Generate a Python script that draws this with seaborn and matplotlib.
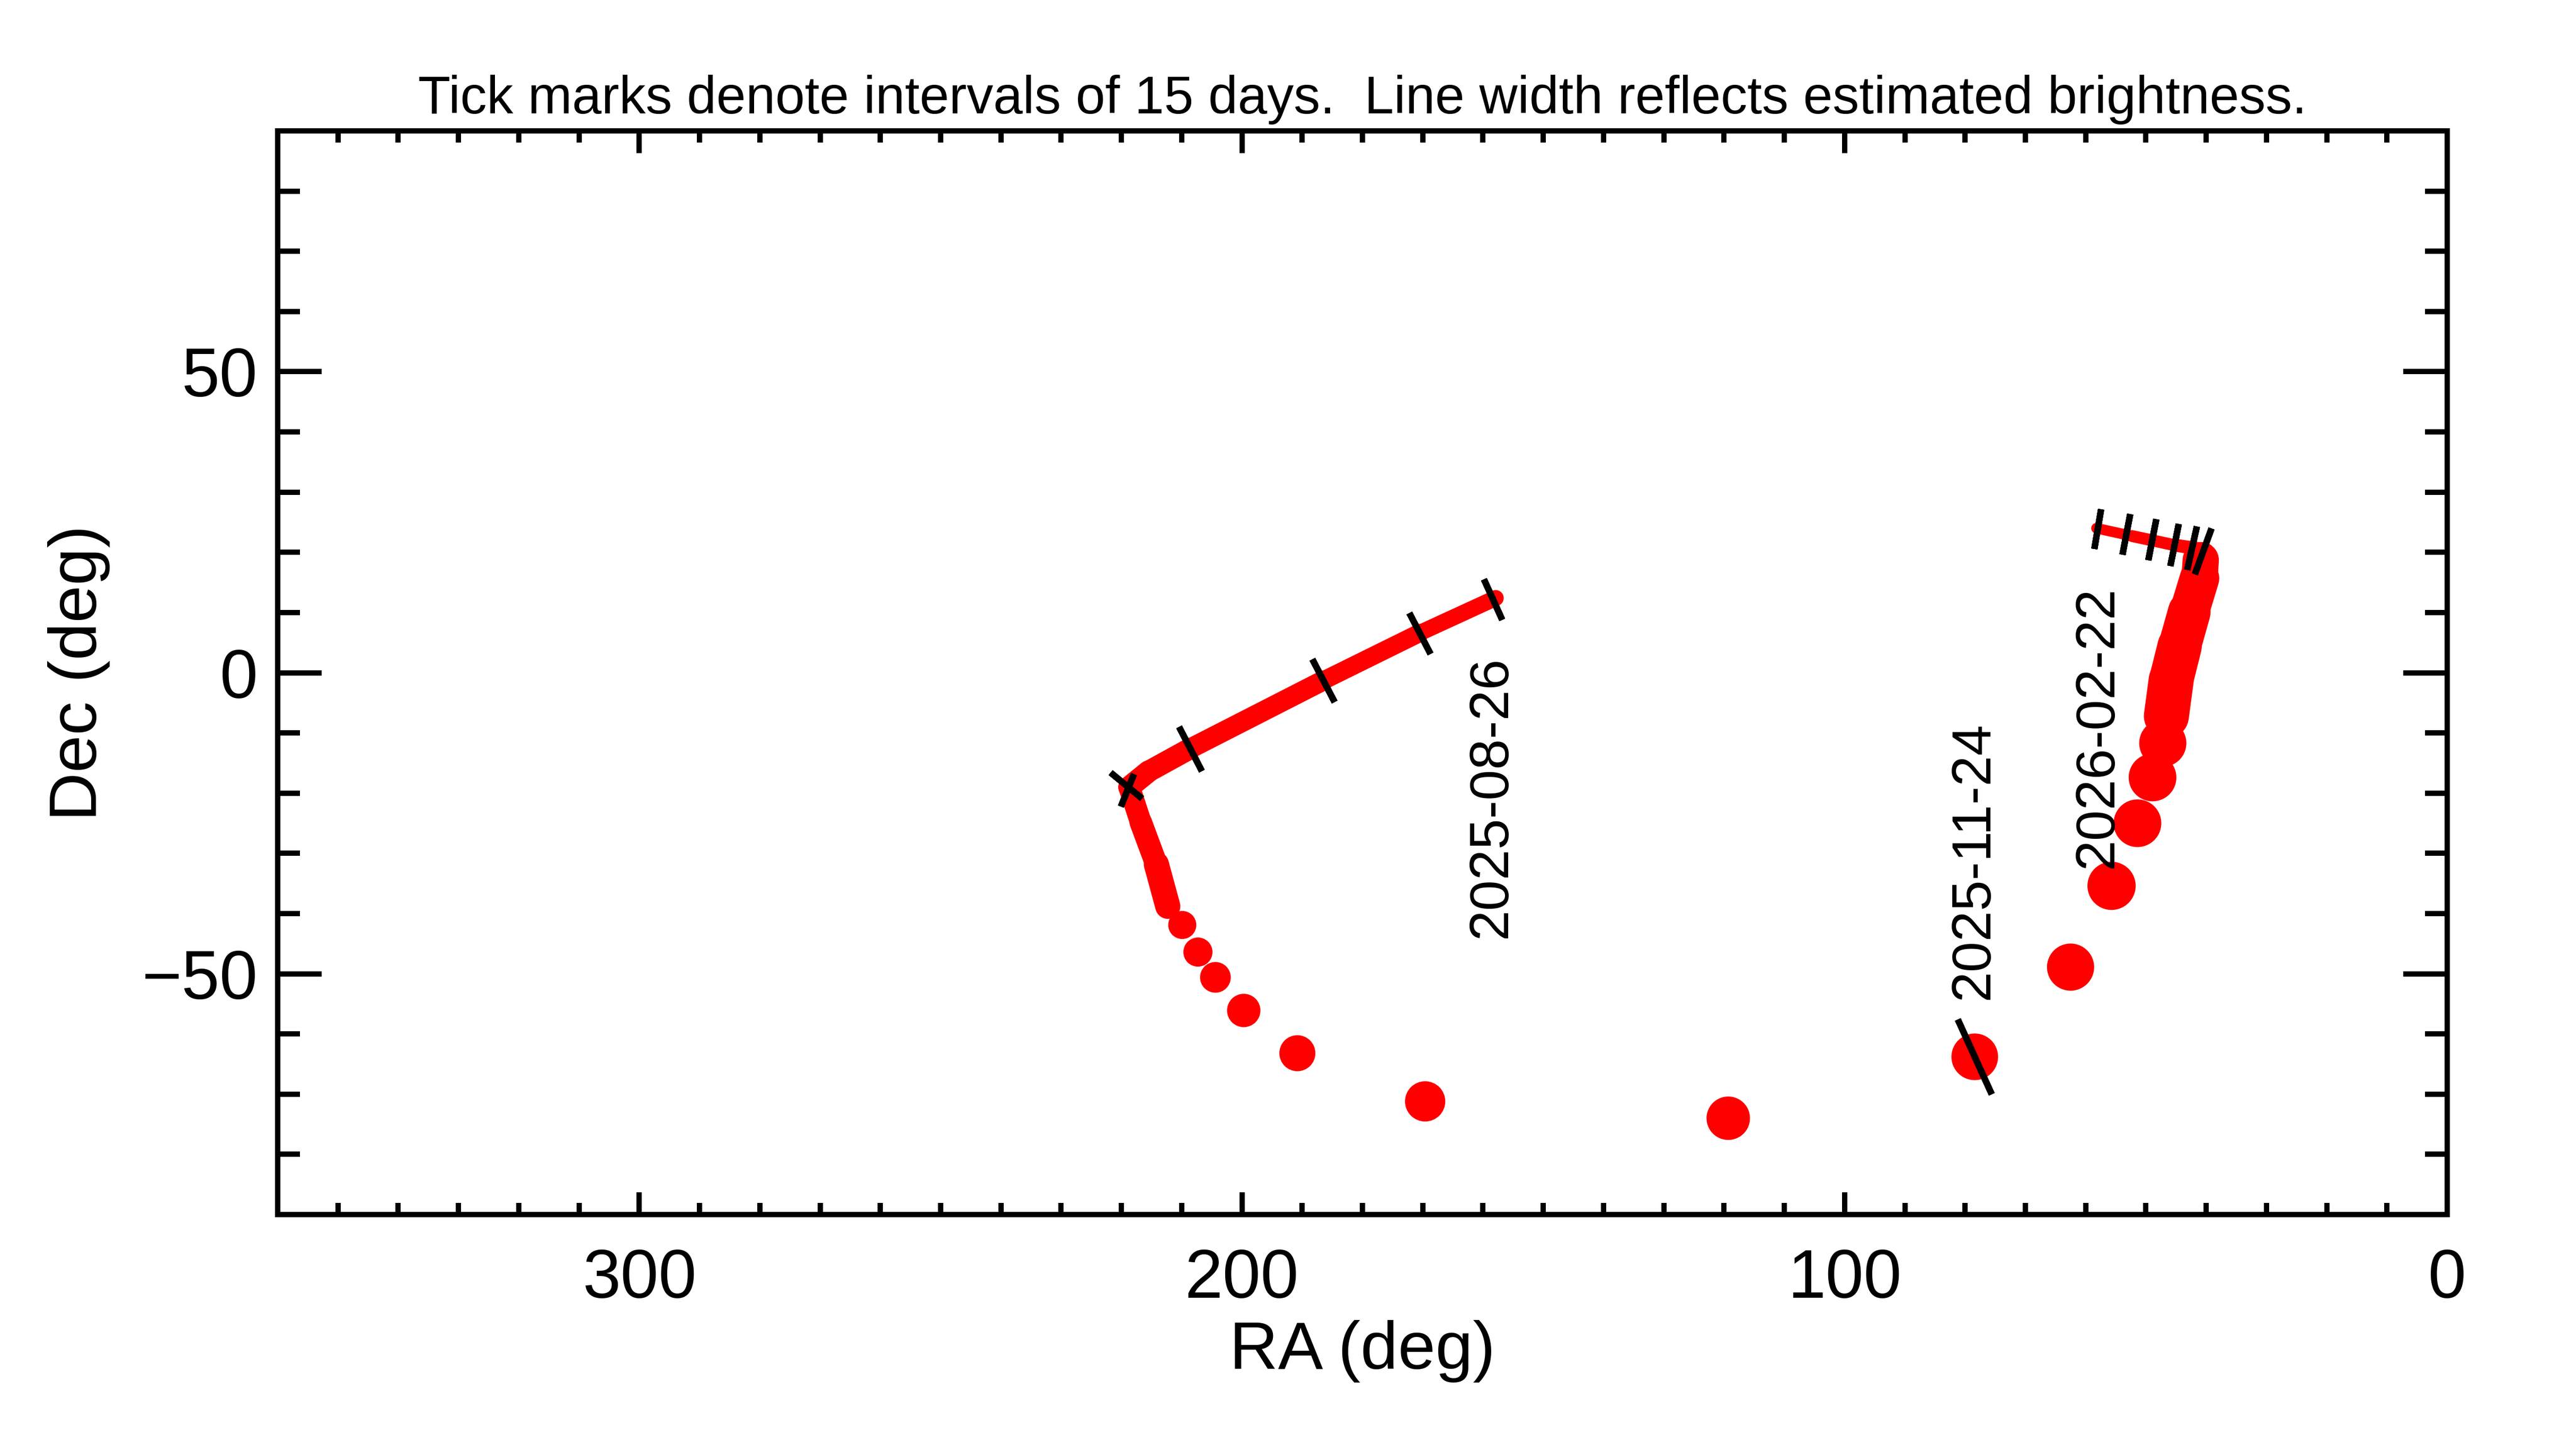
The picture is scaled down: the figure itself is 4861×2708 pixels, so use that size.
import numpy as np
import pandas as pd
import matplotlib
matplotlib.use("Agg")
import matplotlib.pyplot as plt
from matplotlib.ticker import MultipleLocator
import seaborn as sns

DPI = 300
PT = 72.0 / DPI   # points per output pixel

# continuous parts of the track (RA, Dec in deg, trail width in px)
trail_piece = [1, 1, 1, 1, 1, 1, 1, 1, 1,
               2, 2, 2, 2, 2, 2,
               3, 3, 3, 3]
trail_ra = [157.9, 170.5, 186.5, 208.6, 215.5, 218.7, 216.8, 214.2, 212.3,
            46.6, 45.8, 44.4, 42.8, 41.1, 40.9,
            39.9, 45.3, 52.3, 58.2]
trail_dec = [12.4, 6.6, -1.3, -12.6, -16.4, -19.0, -24.8, -31.8, -38.8,
             -7.2, -1.2, 4.4, 10.1, 15.7, 18.7,
             20.4, 21.2, 22.7, 24.0]
trail_px = [28, 33, 36, 40, 41, 42, 40, 45, 50,
            86, 84, 83, 78, 71, 66,
            25, 24, 21, 19]

# separate daily positions where the comet moves fast
dot_ra = [209.9, 207.3, 204.4, 199.7, 190.8, 169.6, 119.3,
          78.4, 62.5, 55.7, 51.4, 48.9, 47.2]
dot_dec = [-41.9, -46.4, -50.6, -56.1, -63.2, -71.2, -74.0,
           -63.8, -48.9, -35.4, -25.0, -17.4, -11.7]
dot_px = [53, 55, 58, 63, 68, 76, 82,
          88, 89, 91, 90, 90, 89]

# 15-day tick marks (centre, screen angle in deg, length in px)
tick_ra = [158.4, 170.5, 186.5, 208.6, 219.2, 219.0, 78.4,
           40.5, 42.4, 45.3, 49.0, 53.3, 58.0]
tick_dec = [12.2, 6.6, -1.3, -12.6, -18.7, -19.5, -63.8,
            20.2, 20.7, 21.3, 22.1, 23.0, 23.9]
tick_angle = [-65.7, -62.6, -62.5, -62.7, -39.5, 68.0, -65.6,
              70.0, 77.5, 78.7, 79.0, 79.2, 80.3]
tick_px = [84, 87, 91, 94, 77, 66, 155,
           92, 84, 81, 79, 78, 76]

# date labels
label_text = ["2025-08-26", "2025-11-24", "2026-02-22"]
label_ra = [158.5, 78.5, 57.9]
label_dec = [-20.6, -31.2, -9.0]

title = "Tick marks denote intervals of 15 days.  Line width reflects estimated brightness."

sns.set_style("ticks")
plt.rcParams['font.family'] = ['Liberation Sans', 'DejaVu Sans']
plt.rcParams['axes.linewidth'] = 10 * PT
for key in ['text.color', 'axes.labelcolor', 'xtick.color', 'ytick.color', 'axes.edgecolor']:
    plt.rcParams[key] = 'black'

fig = plt.figure(figsize=(4861 / DPI, 2708 / DPI), dpi=DPI)
ax = fig.add_axes([524 / 4861, 1 - 2292 / 2708, 4094 / 4861, 2045 / 2708])

# trail: one short line per pair of neighbouring vertices, width = mean of the two
rows = []
seg = 0
for i in range(len(trail_ra) - 1):
    if trail_piece[i] != trail_piece[i + 1]:
        continue
    w = 0.5 * (trail_px[i] + trail_px[i + 1]) * PT
    rows.append((seg, trail_ra[i], trail_dec[i], w))
    rows.append((seg, trail_ra[i + 1], trail_dec[i + 1], w))
    seg += 1
seg_df = pd.DataFrame(rows, columns=['seg', 'ra', 'dec', 'lw'])
lw_min, lw_max = seg_df['lw'].min(), seg_df['lw'].max()

sns.lineplot(data=seg_df, x='ra', y='dec', units='seg', estimator=None, sort=False,
             size='lw', sizes=(lw_min, lw_max), size_norm=(lw_min, lw_max),
             color='red', solid_capstyle='round', legend=False, ax=ax, zorder=2)

dots = pd.DataFrame({'ra': dot_ra, 'dec': dot_dec,
                     's': (np.array(dot_px) * PT) ** 2})
sns.scatterplot(data=dots, x='ra', y='dec', s=dots['s'].values, color='red',
                linewidth=0, edgecolor='none', legend=False, ax=ax, zorder=2)

for ra, dec, ang, ln in zip(tick_ra, tick_dec, tick_angle, tick_px):
    ax.plot([ra], [dec], linestyle='none', marker=(2, 2, ang - 90),
            markersize=ln * PT, markeredgewidth=12 * PT, color='black', zorder=3)

for txt, ra, dec in zip(label_text, label_ra, label_dec):
    ax.text(ra, dec, txt, rotation=90, ha='center', va='center',
            fontsize=25, color='black', zorder=4)

ax.set_xlim(360, 0)
ax.set_ylim(-90, 90)
ax.xaxis.set_major_locator(MultipleLocator(100))
ax.xaxis.set_minor_locator(MultipleLocator(10))
ax.yaxis.set_major_locator(MultipleLocator(50))
ax.yaxis.set_minor_locator(MultipleLocator(10))

ax.tick_params(which='both', direction='in', top=True, right=True,
               width=10 * PT, color='black', labelcolor='black', labelsize=31)
ax.tick_params(axis='x', which='major', length=42 * PT, pad=15)
ax.tick_params(axis='x', which='minor', length=22 * PT)
ax.tick_params(axis='y', which='major', length=83 * PT, pad=9)
ax.tick_params(axis='y', which='minor', length=42 * PT)
for sp in ax.spines.values():
    sp.set_color('black')
    sp.set_linewidth(10 * PT)

ax.set_xlabel('RA (deg)', fontsize=30.5, color='black')
ax.set_ylabel('Dec (deg)', fontsize=30.5, color='black')
ax.xaxis.set_label_coords(0.5, -0.0973)
ax.yaxis.set_label_coords(-0.0772, 0.5)
ax.set_title(title, fontsize=24.0, y=1.0161, va='baseline', pad=0, color='black')

fig.savefig('out.png', dpi=DPI)
